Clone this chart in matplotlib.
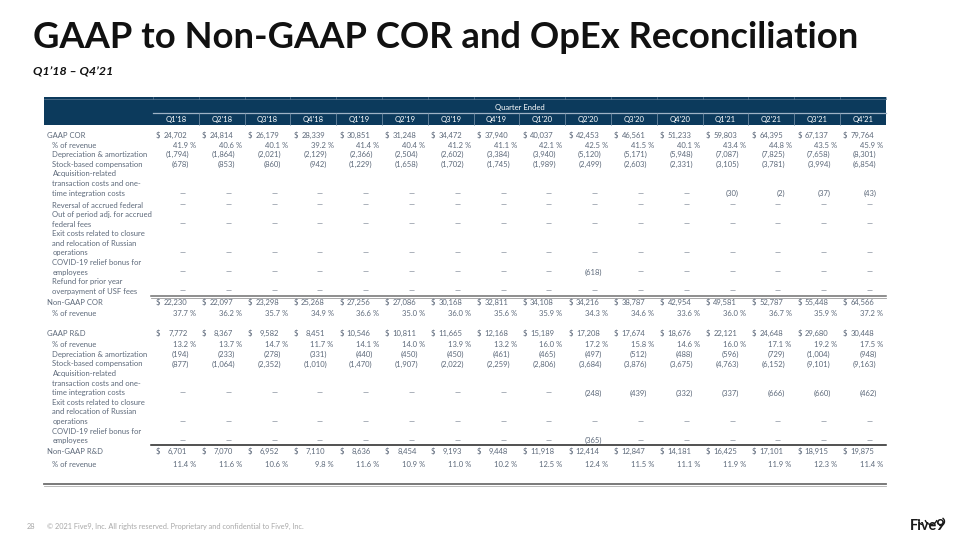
import matplotlib
matplotlib.use("Agg")
import matplotlib.pyplot as plt
from matplotlib.patches import Rectangle, Arc

# ---------------- data ----------------
quarters = ["Q1'18", "Q2'18", "Q3'18", "Q4'18", "Q1'19", "Q2'19", "Q3'19", "Q4'19",
            "Q1'20", "Q2'20", "Q3'20", "Q4'20", "Q1'21", "Q2'21", "Q3'21", "Q4'21"]

gaap_cor = [24702, 24814, 26179, 28339, 30851, 31248, 34472, 37940,
            40037, 42453, 46561, 51233, 59803, 64395, 67137, 79764]
gaap_cor_pct = [41.9, 40.6, 40.1, 39.2, 41.4, 40.4, 41.2, 41.1,
                42.1, 42.5, 41.5, 40.1, 43.4, 44.8, 43.5, 45.9]
cor_da = [1794, 1864, 2021, 2129, 2366, 2504, 2602, 3384,
          3940, 5120, 5171, 5948, 7087, 7825, 7658, 8301]
cor_sbc = [678, 853, 860, 942, 1229, 1658, 1702, 1745,
           1989, 2499, 2603, 2331, 3105, 3781, 3994, 6854]
cor_acq = [0, 0, 0, 0, 0, 0, 0, 0, 0, 0, 0, 0, 30, 2, 37, 43]
cor_reversal = [0] * 16
cor_out_of_period = [0] * 16
cor_exit = [0] * 16
cor_covid = [0, 0, 0, 0, 0, 0, 0, 0, 0, 618, 0, 0, 0, 0, 0, 0]
cor_refund = [0] * 16
nongaap_cor = [22230, 22097, 23298, 25268, 27256, 27086, 30168, 32811,
               34108, 34216, 38787, 42954, 49581, 52787, 55448, 64566]
nongaap_cor_pct = [37.7, 36.2, 35.7, 34.9, 36.6, 35.0, 36.0, 35.6,
                   35.9, 34.3, 34.6, 33.6, 36.0, 36.7, 35.9, 37.2]

gaap_rd = [7772, 8367, 9582, 8451, 10546, 10811, 11665, 12168,
           15189, 17208, 17674, 18676, 22121, 24648, 29680, 30448]
gaap_rd_pct = [13.2, 13.7, 14.7, 11.7, 14.1, 14.0, 13.9, 13.2,
               16.0, 17.2, 15.8, 14.6, 16.0, 17.1, 19.2, 17.5]
rd_da = [194, 233, 278, 331, 440, 450, 450, 461,
         465, 497, 512, 488, 596, 729, 1004, 948]
rd_sbc = [877, 1064, 2352, 1010, 1470, 1907, 2022, 2259,
          2806, 3684, 3876, 3675, 4763, 6152, 9101, 9163]
rd_acq = [0, 0, 0, 0, 0, 0, 0, 0, 0, 248, 439, 332, 337, 666, 660, 462]
rd_exit = [0] * 16
rd_covid = [0, 0, 0, 0, 0, 0, 0, 0, 0, 365, 0, 0, 0, 0, 0, 0]
nongaap_rd = [6701, 7070, 6952, 7110, 8636, 8454, 9193, 9448,
              11918, 12414, 12847, 14181, 16425, 17101, 18915, 19875]
nongaap_rd_pct = [11.4, 11.6, 10.6, 9.8, 11.6, 10.9, 11.0, 10.2,
                  12.5, 12.4, 11.5, 11.1, 11.9, 11.9, 12.3, 11.4]

title = "GAAP to Non-GAAP COR and OpEx Reconciliation"
subtitle = "Q1\u201918 \u2013 Q4\u201921"
header_text = "Quarter Ended"
footer_text = "\u00a9 2021 Five9, Inc. All rights reserved. Proprietary and confidential to Five9, Inc."
page_no = "28"

# ---------------- figure ----------------
fig = plt.figure(figsize=(9.6, 5.4), dpi=100)
ax = fig.add_axes([0, 0, 1, 1])
ax.set_xlim(0, 960)
ax.set_ylim(540, 0)
ax.axis("off")
renderer = fig.canvas.get_renderer()

FONT = ["Lato", "DejaVu Sans"]
TXT = "#5D697A"
NAVY = "#0C3A5C"


def width_px(txt, fs=10, **kw):
    t = ax.text(0, 0, txt, fontsize=fs, **kw)
    w = t.get_window_extent(renderer=renderer).width
    t.remove()
    return w


# title
tfs = 10 * 825 / width_px(title, family=FONT, weight="bold")
ax.text(33, 48.5, title, fontsize=tfs, family=FONT, weight="bold", color="#111111",
        ha="left", va="baseline")
sfs = 10 * 80 / width_px(subtitle, family=FONT, weight="bold", style="italic")
ax.text(33, 75.5, subtitle, fontsize=sfs, family=FONT, weight="bold", style="italic",
        color="#111111", ha="left", va="baseline")

# table font
FS = 10 * 96 / width_px("Depreciation & amortization", family=FONT)
BASE = 2.5  # baseline offset from row centre

X0, CW = 153.0, 45.8
NCOL = len(quarters)
XL, XR = 44, X0 + NCOL * CW


def t(x, y, s, ha="left", color=TXT, fs=None, **kw):
    ax.text(x, y + BASE, s, ha=ha, va="baseline", fontsize=fs or FS, family=FONT,
            color=color, **kw)


# header band
ax.add_patch(Rectangle((XL, 97), XR - XL, 28, color=NAVY, lw=0))
ax.plot([XL, XR], [99.3, 99.3], color="#5E7C96", lw=0.5)
ax.plot([X0, XR], [113.3, 113.3], color="#9FB3C6", lw=0.9)
for i in range(NCOL + 1):
    xb = X0 + i * CW
    ax.plot([xb, xb], [97, 99.3], color="#5E7C96", lw=0.5)
    if 0 < i < NCOL:
        ax.plot([xb, xb], [113.3, 125], color="#7F98AE", lw=0.5)
t((X0 + XR) / 2, 107.5, header_text, ha="center", color="white")
for i, q in enumerate(quarters):
    t(X0 + i * CW + CW / 2, 119.5, q, ha="center", color="white")


def row_values(vals, y, kind):
    for i, v in enumerate(vals):
        cs = X0 + i * CW
        if kind == "dollar":
            t(cs + 3, y, "$")
            t(cs + 34.5, y, f"{v:,}", ha="right")
        elif kind == "pct":
            t(cs + 43.2, y, f"{v:.1f} %", ha="right")
        else:
            if v == 0:
                t(cs + 29.5, y, "\u2014", ha="center")
            else:
                t(cs + 36.5, y, f"({v:,})", ha="right")


def row(labels, ys, vals, kind, main=False):
    lx = 47 if main else 52.5
    for lab, yy in zip(labels, ys):
        t(lx, yy, lab)
    row_values(vals, ys[-1], kind)


# COR section
row(["GAAP COR"], [135.5], gaap_cor, "dollar", main=True)
row(["% of revenue"], [145], gaap_cor_pct, "pct")
row(["Depreciation & amortization"], [154.6], cor_da, "adj")
row(["Stock-based compensation"], [164.2], cor_sbc, "adj")
row(["Acquisition-related", "transaction costs and one-", "time integration costs"],
    [173.9, 183.6, 193.3], cor_acq, "adj")
row(["Reversal of accrued federal"], [205.2], cor_reversal, "adj")
row(["Out of period adj. for accrued", "federal fees"], [214.7, 224.1], cor_out_of_period, "adj")
row(["Exit costs related to closure", "and relocation of Russian", "operations"],
    [233.7, 243.3, 253.0], cor_exit, "adj")
row(["COVID-19 relief bonus for", "employees"], [262.7, 272.2], cor_covid, "adj")
row(["Refund for prior year", "overpayment of USF fees"], [281.7, 291.2], cor_refund, "adj")
ax.plot([X0 - 2, XR], [295.9, 295.9], color="#707070", lw=1.1)
ax.plot([X0 - 2, XR], [297.6, 297.6], color="#9A9A9A", lw=0.6)
row(["Non-GAAP COR"], [302.3], nongaap_cor, "dollar", main=True)
row(["% of revenue"], [313.8], nongaap_cor_pct, "pct")

# R&D section
row(["GAAP R&D"], [333.3], gaap_rd, "dollar", main=True)
row(["% of revenue"], [344.3], gaap_rd_pct, "pct")
row(["Depreciation & amortization"], [354.2], rd_da, "adj")
row(["Stock-based compensation"], [363.9], rd_sbc, "adj")
row(["Acquisition-related", "transaction costs and one-", "time integration costs"],
    [373.6, 383.3, 393.0], rd_acq, "adj")
row(["Exit costs related to closure", "and relocation of Russian", "operations"],
    [402.3, 411.9, 421.6], rd_exit, "adj")
row(["COVID-19 relief bonus for", "employees"], [431.0, 440.6], rd_covid, "adj")
ax.plot([X0 - 2, XR], [445.3, 445.3], color="#222222", lw=1.1)
row(["Non-GAAP R&D"], [451.7], nongaap_rd, "dollar", main=True)
row(["% of revenue"], [464.6], nongaap_rd_pct, "pct")

ax.plot([XL, XR], [484.2, 484.2], color="#6E6E6E", lw=1.3)
ax.plot([XL, XR], [485.6, 485.6], color="#B0B0B0", lw=0.6)

# footer
ffs = 10 * 256 / width_px(footer_text, family=FONT)
ax.text(27, 529, page_no, fontsize=ffs, family=FONT, color="#A8A8A8", va="baseline")
ax.text(47, 529, footer_text, fontsize=ffs, family=FONT, color="#A8A8A8", va="baseline")

# Five9 logo
lfs = 10 * 36 / width_px("Five9", family=FONT, weight="bold")
ax.text(910, 530.5, "Five9", fontsize=lfs, family=FONT, weight="bold", color="#1A1A1A",
        va="baseline")
ax.add_patch(Arc((922.5, 521.0), 7, 7, theta1=90, theta2=190, color="#1A1A1A", lw=1.0))
ax.add_patch(Arc((931.0, 518.5), 12, 12, theta1=15, theta2=165, color="#1A1A1A", lw=1.0))
ax.add_patch(Arc((940.5, 521.5), 8, 8, theta1=-60, theta2=110, color="#1A1A1A", lw=1.0))

fig.savefig("out.png", dpi=100)
